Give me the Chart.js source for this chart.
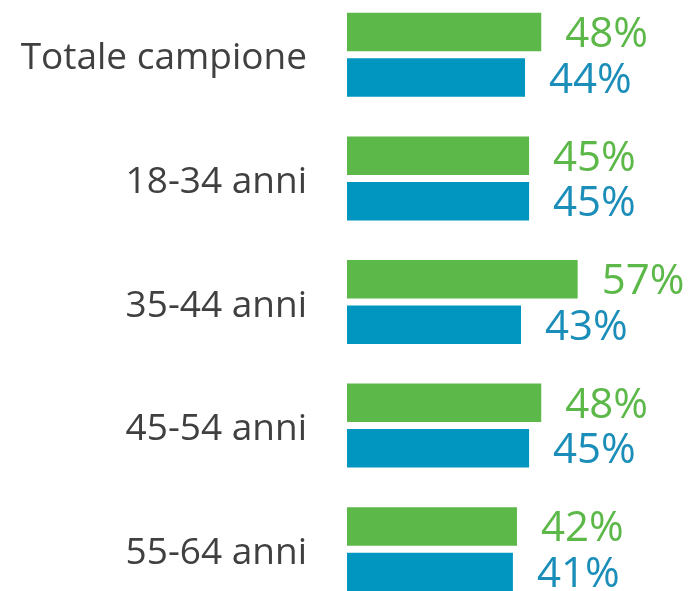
<!DOCTYPE html>
<html>
<head>
<meta charset="utf-8">
<script src="https://cdn.jsdelivr.net/npm/chart.js@4.4.1/dist/chart.umd.min.js"></script>
<style>
  html,body{margin:0;padding:0;background:#fff;overflow:hidden;}
  #wrap{position:absolute;left:0;top:-7px;width:695px;height:618px;}
</style>
</head>
<body>
<div id="wrap"><canvas id="chart"></canvas></div>
<script>
const categories = ['Totale campione','18-34 anni','35-44 anni','45-54 anni','55-64 anni'];
const greenValues = [48,45,57,48,42];
const blueValues = [44,45,43,45,41];

const GREEN = '#5cb848';
const BLUE = '#0096bf';

// draws "xx%" just right of each bar
const valueLabels = {
  id:'valueLabels',
  afterDatasetsDraw(chart){
    const ctx = chart.ctx;
    ctx.save();
    ctx.font = '400 42px "Open Sans"';
    ctx.textBaseline = 'alphabetic';
    ctx.textAlign = 'left';
    chart.data.datasets.forEach((ds, di)=>{
      const meta = chart.getDatasetMeta(di);
      ctx.fillStyle = ds.labelColor;
      meta.data.forEach((bar, i)=>{
        ctx.fillText(ds.data[i]+'%', bar.x + 24, bar.y + 15);
      });
    });
    ctx.restore();
  }
};

new Chart(document.getElementById('chart'),{
  type:'bar',
  data:{
    labels:categories,
    datasets:[
      {label:'A', data:greenValues, backgroundColor:GREEN, labelColor:'#5cb848', barPercentage:0.846, categoryPercentage:0.736},
      {label:'B', data:blueValues, backgroundColor:BLUE, labelColor:'#1a8db8', barPercentage:0.846, categoryPercentage:0.736}
    ]
  },
  options:{
    indexAxis:'y',
    responsive:true, maintainAspectRatio:false,
    animation:false,
    layout:{padding:0},
    plugins:{legend:{display:false}, tooltip:{enabled:false}},
    scales:{
      x:{display:false, min:0, max:86},
      y:{
        grid:{display:false, drawTicks:false},
        border:{display:false},
        ticks:{color:'#404040', padding:40, labelOffset:4, font:{family:'Open Sans', size:37}},
        afterFit(scale){ scale.width = 347; scale.paddingTop = 0; scale.paddingBottom = 0; }
      }
    }
  },
  plugins:[valueLabels]
});
</script>
</body>
</html>
